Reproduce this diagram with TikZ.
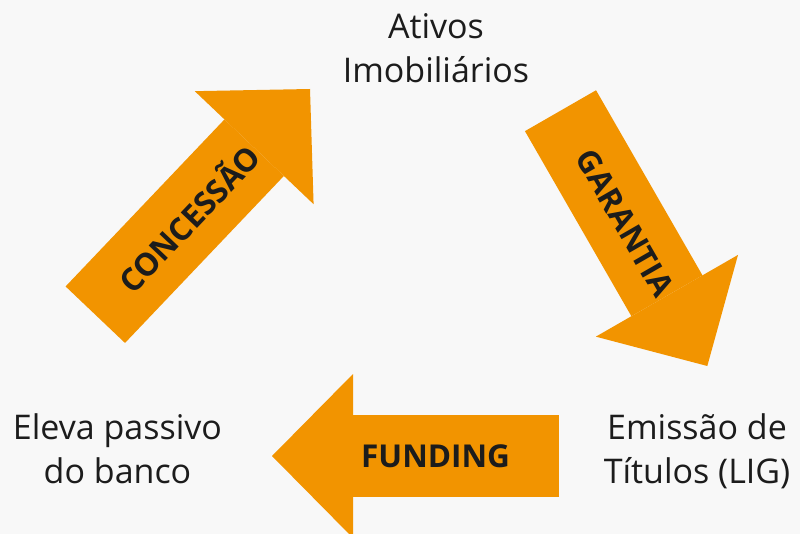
\documentclass[tikz,border=0pt]{standalone}
\usepackage{fontspec}
\setmainfont{Open Sans}
\usepackage{xcolor}
\usepackage{tikz}
\usetikzlibrary{arrows.meta}
\definecolor{fundo}{HTML}{F8F8F8}
\definecolor{laranja}{HTML}{F29400}
\definecolor{texto}{HTML}{1C1C1C}
\tikzset{
    seta/.style={laranja, line width=82pt, -{Triangle[length=81pt, width=164pt, line width=0pt]}},
    rotulo/.style={text=texto, font=\bfseries\fontsize{31.5}{38}\selectfont, sloped, inner sep=0pt},
    caixa/.style={text=texto, font=\fontsize{34}{44}\selectfont, align=center, inner sep=0pt}
}

\begin{document}
\begin{tikzpicture}[x=1pt, y=-1pt]
        \useasboundingbox (0,0) rectangle (800,534);
        \fill[fundo] (0,0) rectangle (800,534);
        \node[caixa] (ativos) at (436,48) {Ativos\\Imobiliários};
        \node[caixa] (passivo) at (117.5,449) {Eleva passivo\\do banco};
        \node[caixa] (titulos) at (697,451) {Emissão de\\Títulos (LIG)};
        \coordinate (concIni) at (95.3,314.7);
        \coordinate (concFim) at (310,89);
        \coordinate (garIni) at (560.5,110.7);
        \coordinate (garFim) at (707.3,366);
        \coordinate (fundIni) at (559,456);
        \coordinate (fundFim) at (272,456);
        \draw[seta] (concIni) -- node[rotulo, pos=0.43] {CONCESSÃO} (concFim);
        \draw[seta] (garIni) -- node[rotulo, pos=0.44] {GARANTIA} (garFim);
        \draw[seta] (fundIni) -- node[rotulo, pos=0.43] {FUNDING} (fundFim);
\end{tikzpicture}
\end{document}
